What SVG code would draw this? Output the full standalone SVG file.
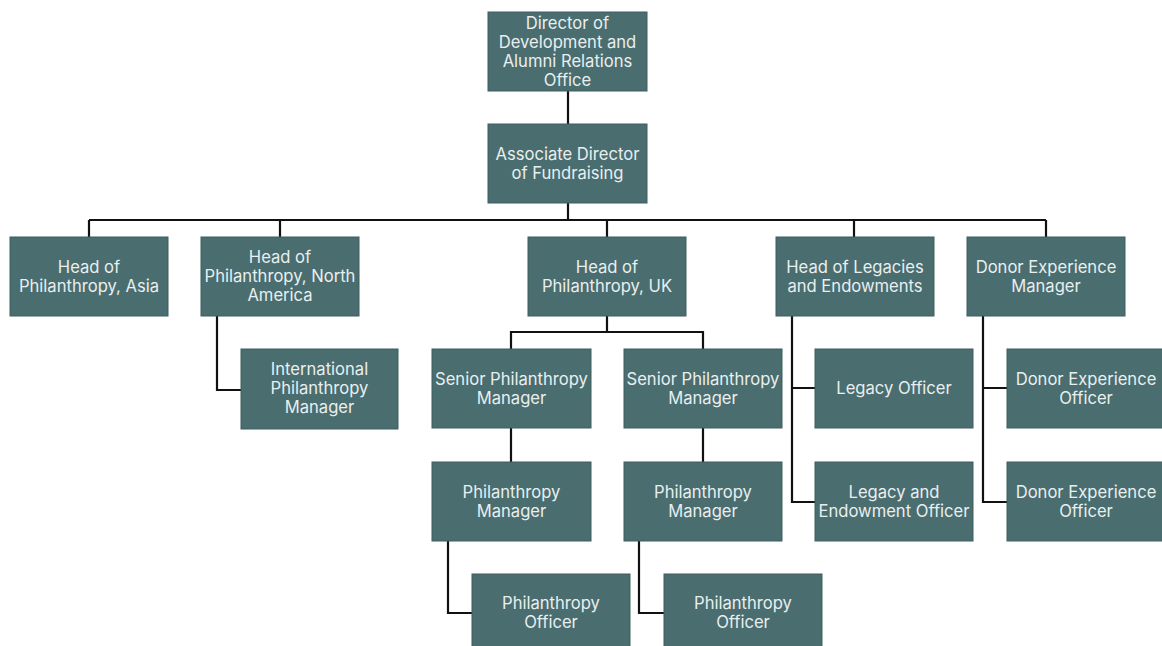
<svg xmlns="http://www.w3.org/2000/svg" width="1162" height="646" viewBox="0 0 1162 646">
<style>
.box{fill:#4a6d6f;stroke:#3f5f61;stroke-width:1}
.t{font-family:Inter,"Liberation Sans",sans-serif;font-size:16.6px;fill:#e9efef;text-anchor:middle}
.c{fill:none;stroke:#111;stroke-width:2.2}
</style>
<rect width="1162" height="646" fill="#fff"/>
<g id="connectors" class="c">
<path d="M568,91V124M568,203V220M89,220H1046M89,220V237M280,220V237M607,220V237M854,220V237M1046,220V237"/>
<path d="M217,316V390H241"/>
<path d="M607,316V332M511,349V332H703V349M511,428V462M703,428V462"/>
<path d="M448,541V613H472M639,541V613H664"/>
<path d="M792,316V502H815M792,388H815"/>
<path d="M983,316V502H1007M983,388H1007"/>
</g>
<g id="director"><rect class="box" x="488" y="12" width="159" height="79"/><text class="t" x="567.5" y="28.5">Director of</text><text class="t" x="567.5" y="47.5">Development and</text><text class="t" x="567.5" y="66.5">Alumni Relations</text><text class="t" x="567.5" y="85.5">Office</text></g>
<g id="associate"><rect class="box" x="488" y="124" width="159" height="79"/><text class="t" x="567.5" y="159.5">Associate Director</text><text class="t" x="567.5" y="178.5">of Fundraising</text></g>
<g id="asia"><rect class="box" x="10" y="237" width="158" height="79"/><text class="t" x="89" y="272.5">Head of</text><text class="t" x="89" y="291.5">Philanthropy, Asia</text></g>
<g id="northamerica"><rect class="box" x="201" y="237" width="158" height="79"/><text class="t" x="280" y="263">Head of</text><text class="t" x="280" y="282">Philanthropy, North</text><text class="t" x="280" y="301">America</text></g>
<g id="uk"><rect class="box" x="528" y="237" width="158" height="79"/><text class="t" x="607" y="272.5">Head of</text><text class="t" x="607" y="291.5">Philanthropy, UK</text></g>
<g id="legacies"><rect class="box" x="776" y="237" width="158" height="79"/><text class="t" x="855" y="272.5">Head of Legacies</text><text class="t" x="855" y="291.5">and Endowments</text></g>
<g id="donormanager"><rect class="box" x="967" y="237" width="158" height="79"/><text class="t" x="1046" y="272.5">Donor Experience</text><text class="t" x="1046" y="291.5">Manager</text></g>
<g id="ipm"><rect class="box" x="241" y="349" width="157" height="80"/><text class="t" x="319.5" y="375">International</text><text class="t" x="319.5" y="394">Philanthropy</text><text class="t" x="319.5" y="413">Manager</text></g>
<g id="spm1"><rect class="box" x="432" y="349" width="159" height="79"/><text class="t" x="511.5" y="384.5">Senior Philanthropy</text><text class="t" x="511.5" y="403.5">Manager</text></g>
<g id="spm2"><rect class="box" x="624" y="349" width="158" height="79"/><text class="t" x="703" y="384.5">Senior Philanthropy</text><text class="t" x="703" y="403.5">Manager</text></g>
<g id="legacyofficer"><rect class="box" x="815" y="349" width="158" height="79"/><text class="t" x="894" y="394">Legacy Officer</text></g>
<g id="deo1"><rect class="box" x="1007" y="349" width="158" height="79"/><text class="t" x="1086" y="384.5">Donor Experience</text><text class="t" x="1086" y="403.5">Officer</text></g>
<g id="pm1"><rect class="box" x="432" y="462" width="159" height="79"/><text class="t" x="511.5" y="497.5">Philanthropy</text><text class="t" x="511.5" y="516.5">Manager</text></g>
<g id="pm2"><rect class="box" x="624" y="462" width="158" height="79"/><text class="t" x="703" y="497.5">Philanthropy</text><text class="t" x="703" y="516.5">Manager</text></g>
<g id="leo"><rect class="box" x="815" y="462" width="158" height="79"/><text class="t" x="894" y="497.5">Legacy and</text><text class="t" x="894" y="516.5">Endowment Officer</text></g>
<g id="deo2"><rect class="box" x="1007" y="462" width="158" height="79"/><text class="t" x="1086" y="497.5">Donor Experience</text><text class="t" x="1086" y="516.5">Officer</text></g>
<g id="po1"><rect class="box" x="472" y="574" width="158" height="79"/><text class="t" x="551" y="609">Philanthropy</text><text class="t" x="551" y="628">Officer</text></g>
<g id="po2"><rect class="box" x="664" y="574" width="158" height="79"/><text class="t" x="743" y="609">Philanthropy</text><text class="t" x="743" y="628">Officer</text></g>
</svg>
